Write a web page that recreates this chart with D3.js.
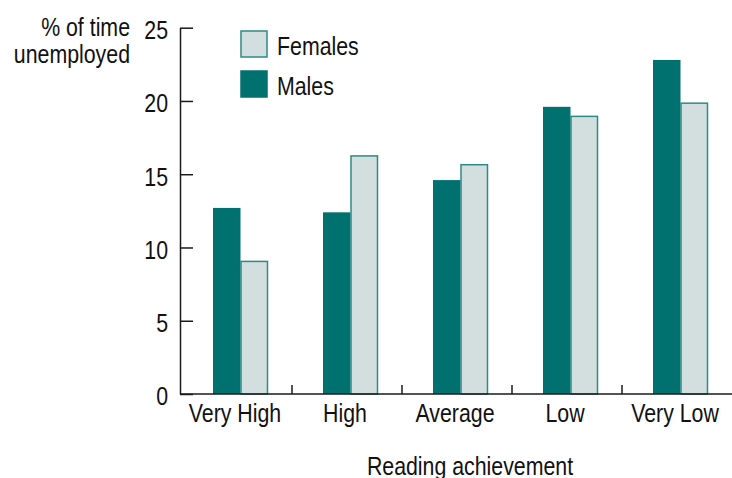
<!DOCTYPE html>
<html>
<head>
<meta charset="utf-8">
<script src="https://cdn.jsdelivr.net/npm/d3@7"></script>
<style>
  body { margin: 0; background: #fff; }
  svg { display: block; font-family: "Liberation Sans", Arial, sans-serif; }
</style>
</head>
<body>
<div id="chart"></div>
<script>
const FRAME_WIDTH = 732;
const FRAME_HEIGHT = 478;

// data
const CATEGORIES = ["Very High", "High", "Average", "Low", "Very Low"];
const SERIES = ["Males", "Females"];
const MALES = [12.7, 12.4, 14.6, 19.6, 22.8];
const FEMALES = [9.1, 16.3, 15.7, 19.0, 19.9];
const Y_TICKS = [0, 5, 10, 15, 20, 25];

const MALE_FILL = "#00716e";
const FEMALE_FILL = "#d3dfde";
const FEMALE_STROKE = "#2c8a87";
const AXIS_COLOR = "#1a1a1a";
const FONT_SIZE = "26px";
const NARROW = 0.82; // squeeze text to look like a narrow face

const svg = d3.select("#chart")
  .append("svg")
    .attr("width", FRAME_WIDTH)
    .attr("height", FRAME_HEIGHT);

// scales
const X_SCALE = d3.scaleBand()
  .domain(CATEGORIES)
  .range([182, 732]);

const SUB_SCALE = d3.scaleBand()
  .domain(SERIES)
  .range([0, 55]);

const Y_SCALE = d3.scaleLinear()
  .domain([0, 25])
  .range([394, 27.7]);

// bars
const rows = CATEGORIES.map((c, i) => ({cat: c, Males: MALES[i], Females: FEMALES[i]}));

const groups = svg.selectAll(".group")
  .data(rows)
  .enter()
  .append("g")
    .attr("class", "group")
    .attr("transform", d => "translate(" + (X_SCALE(d.cat) + X_SCALE.bandwidth() / 2 - 24) + ",0)");

groups.selectAll("rect")
  .data(d => SERIES.map(s => ({key: s, value: d[s]})))
  .enter()
  .append("rect")
    .attr("x", d => SUB_SCALE(d.key) + (d.key == "Females" ? 0.5 : 0))
    .attr("y", d => Y_SCALE(d.value) + (d.key == "Females" ? 0.75 : 0))
    .attr("width", d => SUB_SCALE.bandwidth() - (d.key == "Females" ? 1 : 0))
    .attr("height", d => Y_SCALE(0) - Y_SCALE(d.value) - (d.key == "Females" ? 0.75 : 0))
    .attr("fill", d => d.key == "Males" ? MALE_FILL : FEMALE_FILL)
    .attr("stroke", d => d.key == "Females" ? FEMALE_STROKE : "none")
    .attr("stroke-width", 1.5);

// y axis, ticks pointing inward
const yAxis = svg.append("g")
  .attr("transform", "translate(180,0)")
  .call(d3.axisLeft(Y_SCALE).tickValues(Y_TICKS).tickSizeInner(-13).tickSizeOuter(0).tickPadding(12));
yAxis.selectAll("path, line").attr("stroke", AXIS_COLOR).attr("stroke-width", 1.5);
yAxis.selectAll("text")
  .attr("font-family", null)
  .attr("font-size", FONT_SIZE)
  .attr("fill", "#111")
  .attr("dy", "0.42em");

// x axis
svg.append("line")
  .attr("x1", 180).attr("x2", 732)
  .attr("y1", Y_SCALE(0)).attr("y2", Y_SCALE(0))
  .attr("stroke", AXIS_COLOR)
  .attr("stroke-width", 1.5);

const xAxis = svg.append("g")
  .attr("transform", "translate(0," + Y_SCALE(0) + ")")
  .call(d3.axisBottom(X_SCALE).tickSize(0).tickPadding(10));
xAxis.select(".domain").remove();
xAxis.selectAll("text")
  .attr("font-family", null)
  .attr("font-size", FONT_SIZE)
  .attr("fill", "#111")
  .attr("dy", "0.71em")
  .attr("dx", "-2");

// separator ticks between categories
svg.selectAll(".sep")
  .data(CATEGORIES.slice(1))
  .enter()
  .append("line")
    .attr("class", "sep")
    .attr("x1", d => X_SCALE(d)).attr("x2", d => X_SCALE(d))
    .attr("y1", Y_SCALE(0)).attr("y2", Y_SCALE(0) - 9)
    .attr("stroke", AXIS_COLOR)
    .attr("stroke-width", 1.5);

// axis titles
svg.append("text")
  .attr("x", 130).attr("y", 36)
  .attr("text-anchor", "end")
  .attr("font-size", FONT_SIZE)
  .attr("fill", "#111")
  .text("% of time");

svg.append("text")
  .attr("x", 130).attr("y", 63)
  .attr("text-anchor", "end")
  .attr("font-size", FONT_SIZE)
  .attr("fill", "#111")
  .text("unemployed");

svg.append("text")
  .attr("x", 470).attr("y", 475)
  .attr("text-anchor", "middle")
  .attr("font-size", FONT_SIZE)
  .attr("fill", "#111")
  .text("Reading achievement");

// legend
const LEGEND = [
  {label: "Females", fill: FEMALE_FILL, stroke: FEMALE_STROKE},
  {label: "Males", fill: MALE_FILL, stroke: MALE_FILL}
];

const legend = svg.selectAll(".legend")
  .data(LEGEND)
  .enter()
  .append("g")
    .attr("class", "legend")
    .attr("transform", (d, i) => "translate(241," + (31 + i * 40) + ")");

legend.append("rect")
  .attr("width", 26).attr("height", 26)
  .attr("fill", d => d.fill)
  .attr("stroke", d => d.stroke)
  .attr("stroke-width", 1.5);

legend.append("text")
  .attr("x", 36).attr("y", 23.5)
  .attr("font-size", FONT_SIZE)
  .attr("fill", "#111")
  .text(d => d.label);

// squeeze every label horizontally (no narrow font installed)
svg.selectAll("text").each(function() {
  const len = this.getComputedTextLength();
  d3.select(this)
    .attr("textLength", len * NARROW)
    .attr("lengthAdjust", "spacingAndGlyphs");
});
</script>
</body>
</html>
